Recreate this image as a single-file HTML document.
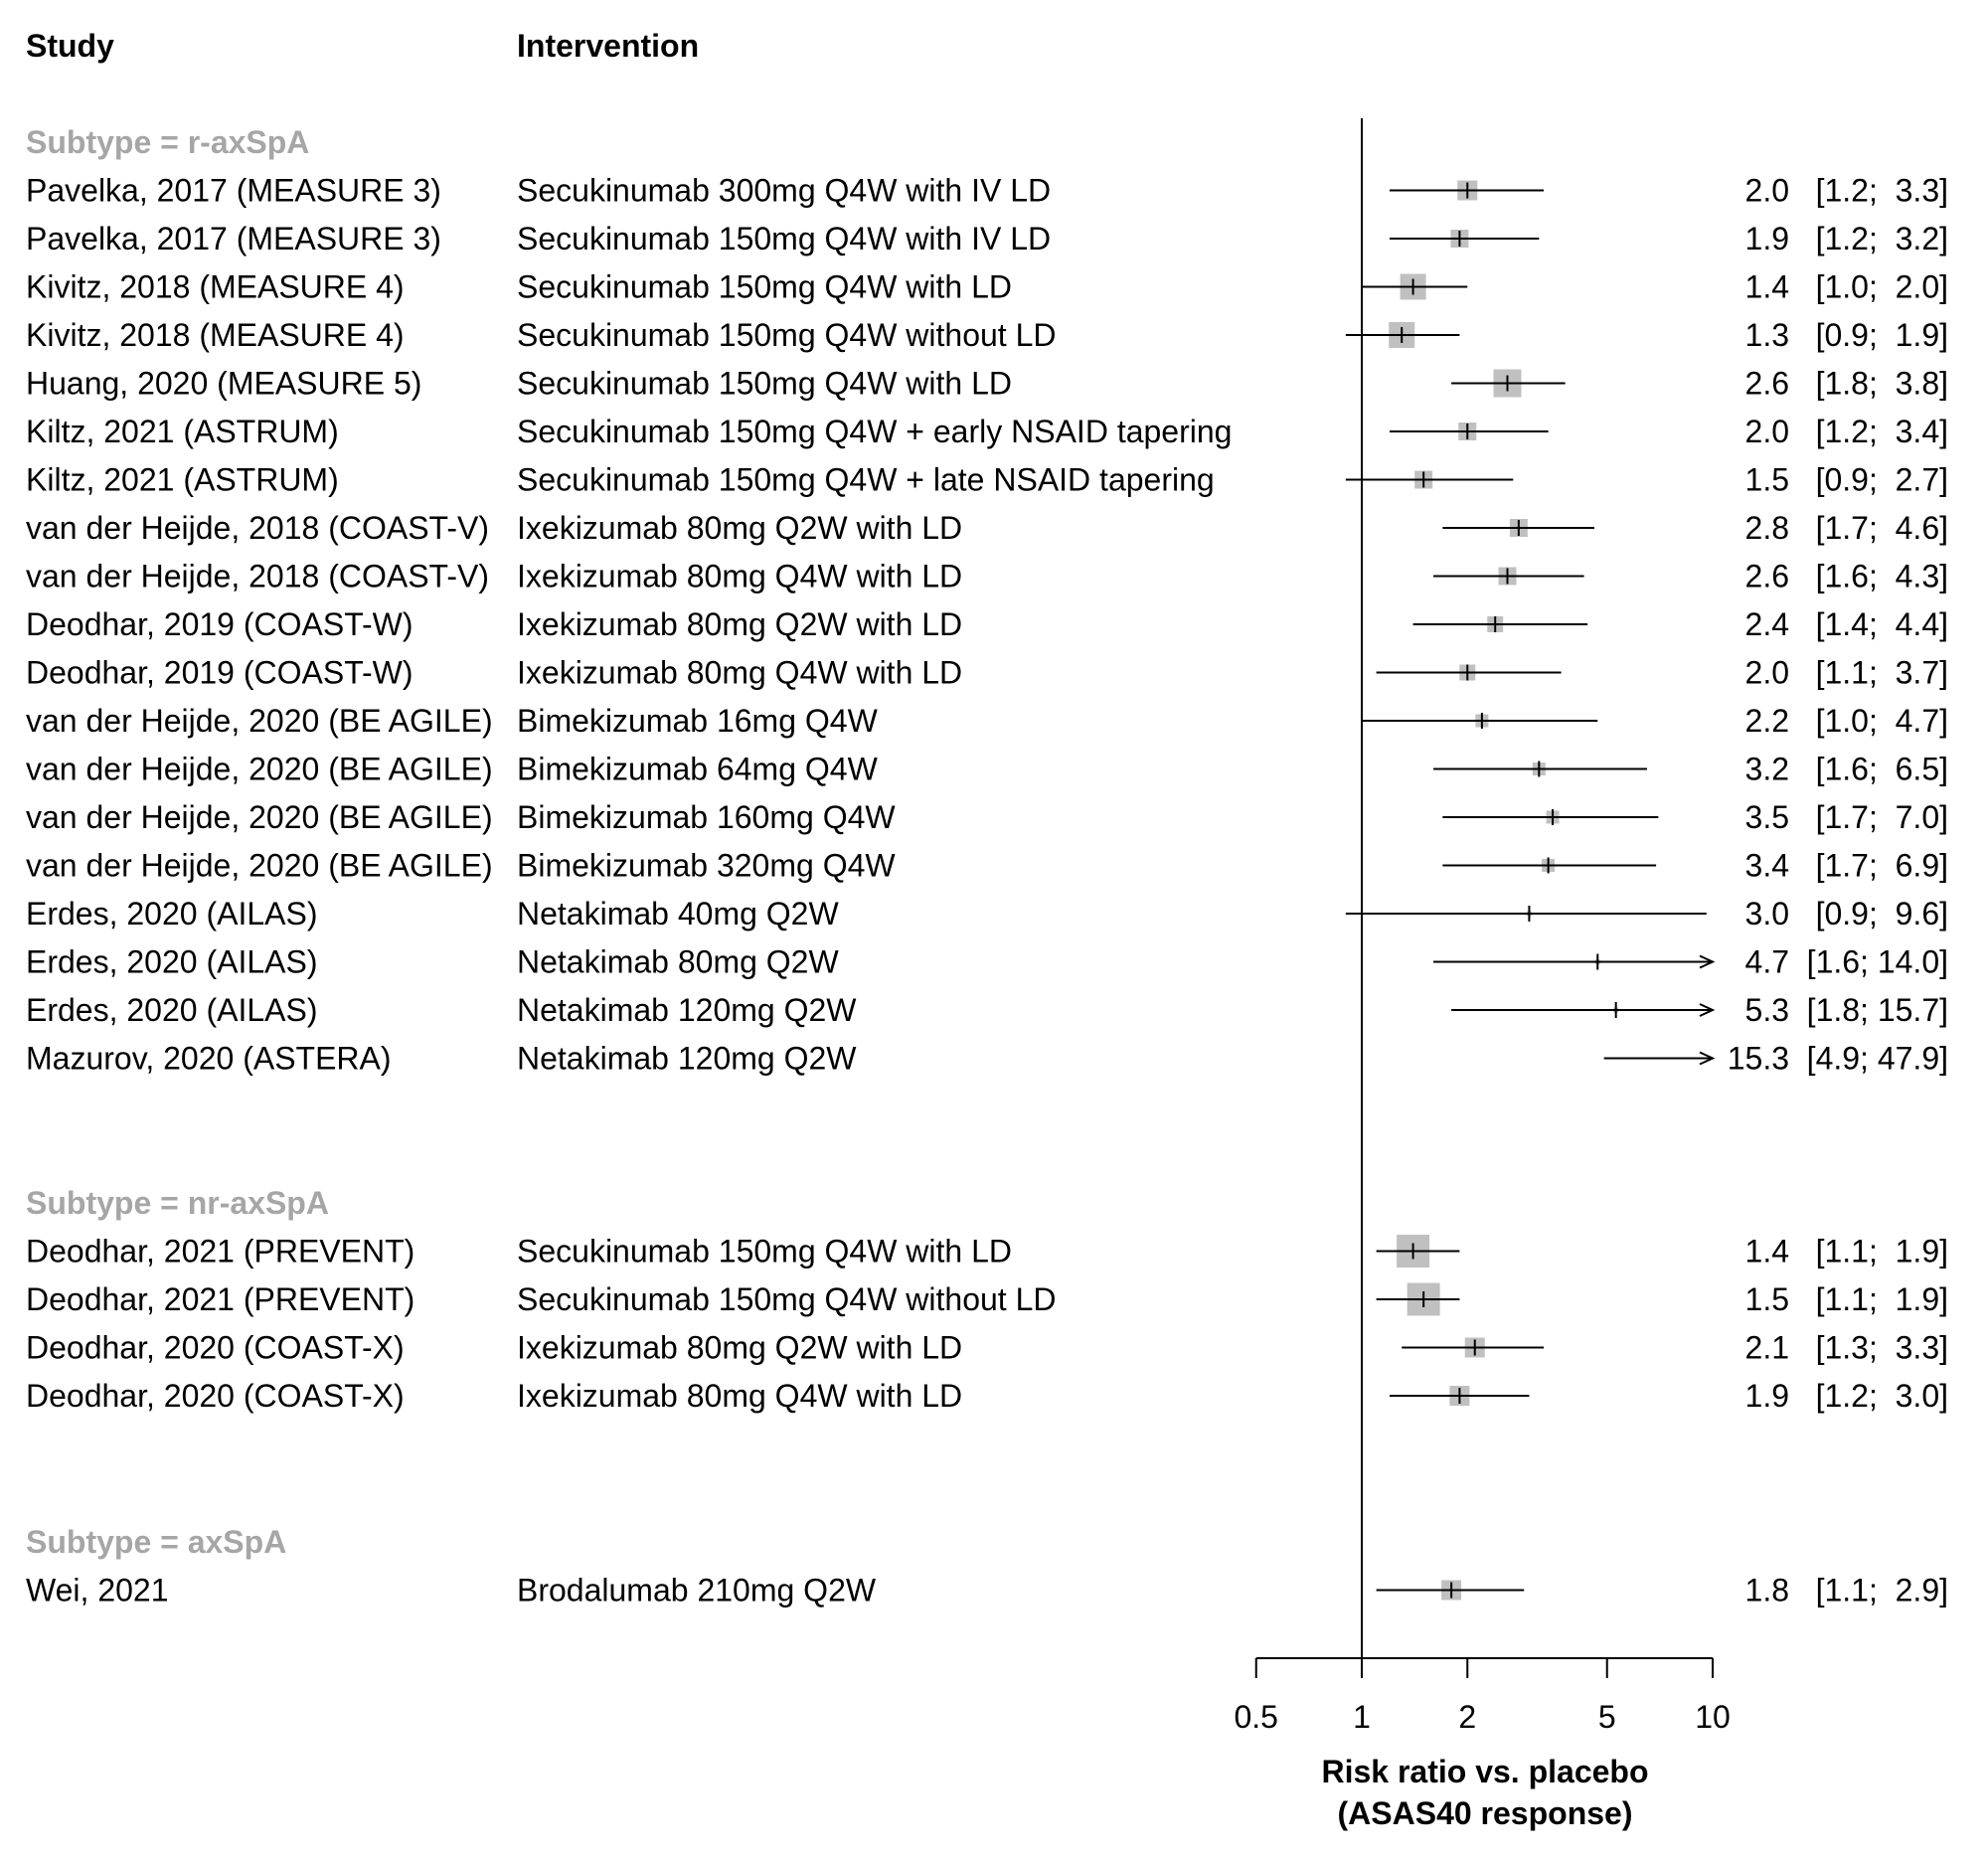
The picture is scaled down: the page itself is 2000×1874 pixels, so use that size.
<!DOCTYPE html>
<html><head><meta charset="utf-8"><style>
html,body{margin:0;padding:0;background:#fff;}
svg text{font-family:"Liberation Sans",Arial,sans-serif;font-size:32px;fill:#000;}
</style></head><body>
<svg id="chart" width="2000" height="1869" viewBox="0 0 2000 1869" xmlns="http://www.w3.org/2000/svg">
<text x="26" y="57" font-weight="bold">Study</text>
<text x="520" y="57" font-weight="bold">Intervention</text>
<g id="rows"></g>
<g id="axis"></g>
</svg>
<script>
const studies = ["Pavelka, 2017 (MEASURE 3)","Pavelka, 2017 (MEASURE 3)","Kivitz, 2018 (MEASURE 4)","Kivitz, 2018 (MEASURE 4)","Huang, 2020 (MEASURE 5)","Kiltz, 2021 (ASTRUM)","Kiltz, 2021 (ASTRUM)","van der Heijde, 2018 (COAST-V)","van der Heijde, 2018 (COAST-V)","Deodhar, 2019 (COAST-W)","Deodhar, 2019 (COAST-W)","van der Heijde, 2020 (BE AGILE)","van der Heijde, 2020 (BE AGILE)","van der Heijde, 2020 (BE AGILE)","van der Heijde, 2020 (BE AGILE)","Erdes, 2020 (AILAS)","Erdes, 2020 (AILAS)","Erdes, 2020 (AILAS)","Mazurov, 2020 (ASTERA)","Deodhar, 2021 (PREVENT)","Deodhar, 2021 (PREVENT)","Deodhar, 2020 (COAST-X)","Deodhar, 2020 (COAST-X)","Wei, 2021"];
const interventions = ["Secukinumab 300mg Q4W with IV LD","Secukinumab 150mg Q4W with IV LD","Secukinumab 150mg Q4W with LD","Secukinumab 150mg Q4W without LD","Secukinumab 150mg Q4W with LD","Secukinumab 150mg Q4W + early NSAID tapering","Secukinumab 150mg Q4W + late NSAID tapering","Ixekizumab 80mg Q2W with LD","Ixekizumab 80mg Q4W with LD","Ixekizumab 80mg Q2W with LD","Ixekizumab 80mg Q4W with LD","Bimekizumab 16mg Q4W","Bimekizumab 64mg Q4W","Bimekizumab 160mg Q4W","Bimekizumab 320mg Q4W","Netakimab 40mg Q2W","Netakimab 80mg Q2W","Netakimab 120mg Q2W","Netakimab 120mg Q2W","Secukinumab 150mg Q4W with LD","Secukinumab 150mg Q4W without LD","Ixekizumab 80mg Q2W with LD","Ixekizumab 80mg Q4W with LD","Brodalumab 210mg Q2W"];
const est = [2.0,1.9,1.4,1.3,2.6,2.0,1.5,2.8,2.6,2.4,2.0,2.2,3.2,3.5,3.4,3.0,4.7,5.3,15.3,1.4,1.5,2.1,1.9,1.8];
const lo = [1.2,1.2,1.0,0.9,1.8,1.2,0.9,1.7,1.6,1.4,1.1,1.0,1.6,1.7,1.7,0.9,1.6,1.8,4.9,1.1,1.1,1.3,1.2,1.1];
const hi = [3.3,3.2,2.0,1.9,3.8,3.4,2.7,4.6,4.3,4.4,3.7,4.7,6.5,7.0,6.9,9.6,14.0,15.7,47.9,1.9,1.9,3.3,3.0,2.9];
const weights = [20,18,26,26,28,18,18,18,18,16,16,13,13,13,13,5,5,5,0,33,33,20,20,20];
const groupOf = [0,0,0,0,0,0,0,0,0,0,0,0,0,0,0,0,0,0,0,1,1,1,1,2];
const groups = ["Subtype = r-axSpA","Subtype = nr-axSpA","Subtype = axSpA"];
const ticks = [0.5,1,2,5,10];
const tickLabels = ["0.5","1","2","5","10"];

const NS="http://www.w3.org/2000/svg";
const X0=1370, PER_DEC=353, XMIN=0.5, XMAX=10;
function xs(v){return X0+Math.log10(v)*PER_DEC;}
const groupY=[143,1210,1551], rowH=48.5;
function mk(tag,attrs,parent){const e=document.createElementNS(NS,tag);for(const k in attrs)e.setAttribute(k,attrs[k]);parent.appendChild(e);return e;}
const rows=document.getElementById('rows'), axis=document.getElementById('axis');
groups.forEach((g,i)=>{
  const t=mk('text',{x:26,y:groupY[i]+11,'font-weight':'bold'},rows);
  
  
  t.style.fill='#a6a6a6';t.textContent=g;
});
const counters=[0,0,0];
studies.forEach((s,i)=>{
  const g=groupOf[i]; counters[g]++;
  const y=groupY[g]+counters[g]*rowH;
  const row=mk('g',{},rows);
  
  
  mk('text',{x:26,y:y+11},row).textContent=s;
  mk('text',{x:520,y:y+11},row).textContent=interventions[i];
  mk('text',{x:1800,y:y+11,'text-anchor':'end'},row).textContent=est[i].toFixed(1);
  const ci=mk('text',{x:1960,y:y+11,'text-anchor':'end'},row);
  ci.style.whiteSpace='pre';
  ci.textContent='['+lo[i].toFixed(1)+'; '+(hi[i]<10?' ':'')+hi[i].toFixed(1)+']';
  const x1=xs(Math.max(lo[i],XMIN)), x2=xs(Math.min(hi[i],XMAX));
  if(weights[i]>0 && est[i]<=XMAX){
    const w=weights[i];
    const b=mk('rect',{x:xs(est[i])-w/2,y:y-w/2,width:w,height:w,fill:'#c0c0c0'},row);
    
    
  }
  const l=mk('line',{x1:x1,y1:y,x2:x2,y2:y,stroke:'#000','stroke-width':2},row);
  
  
  if(hi[i]>XMAX){
    mk('polyline',{points:(x2-13)+','+(y-6)+' '+x2+','+y+' '+(x2-13)+','+(y+6),fill:'none',stroke:'#000','stroke-width':2},row);
  }
  if(est[i]<=XMAX) mk('line',{x1:xs(est[i]),y1:y-8,x2:xs(est[i]),y2:y+8,stroke:'#000','stroke-width':2},row);
});
const ref=mk('line',{x1:X0,y1:119,x2:X0,y2:1668,stroke:'#000','stroke-width':2},axis);


const ax=mk('line',{x1:xs(XMIN),y1:1668,x2:xs(XMAX),y2:1668,stroke:'#000','stroke-width':2},axis);


ticks.forEach((t,i)=>{
  mk('line',{x1:xs(t),y1:1668,x2:xs(t),y2:1688,stroke:'#000','stroke-width':2},axis);
  const tl=mk('text',{x:xs(t),y:1738,'text-anchor':'middle'},axis);
  
  
  tl.textContent=tickLabels[i];
});
const t1=mk('text',{x:1494,y:1793,'text-anchor':'middle','font-weight':'bold'},axis);


t1.textContent='Risk ratio vs. placebo';
const t2=mk('text',{x:1494,y:1835,'text-anchor':'middle','font-weight':'bold'},axis);


t2.textContent='(ASAS40 response)';
</script>
</body></html>
